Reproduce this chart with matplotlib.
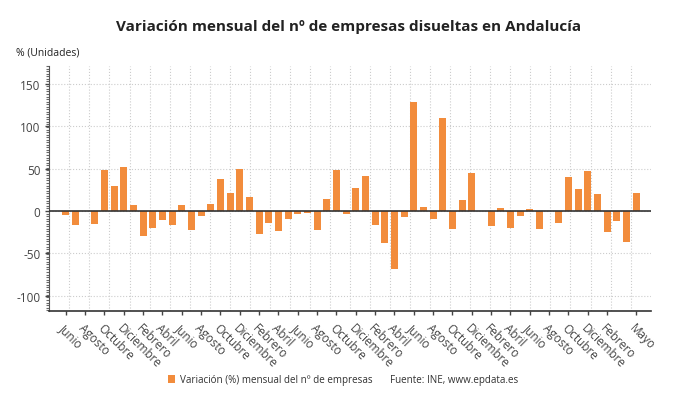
import matplotlib.pyplot as plt
import numpy as np

# month names (Spanish), series starts in June
month_names = ['Enero', 'Febrero', 'Marzo', 'Abril', 'Mayo', 'Junio', 'Julio',
               'Agosto', 'Septiembre', 'Octubre', 'Noviembre', 'Diciembre']
start_month = 5  # Junio

# monthly variation (%) of dissolved companies
values = [-5, -17, 0, -15, 48, 29, 52, 7.5, -30, -20, -11, -16,
          7, -23, -6, 8, 38, 21, 49, 16, -27.6, -14.6, -24, -9,
          -3, -2, -22, 14, 48.5, -4, 27.6, 41, -17, -37.4, -69, -6.7,
          128, 4.3, -9.5, 110, -21, 13, 45, 0, -18, 4, -20, -6,
          2, -21.7, 0, -14.6, 40.6, 26.4, 47, 20, -24.4, -11.8, -36.6, 21]

months = [month_names[(start_month + i) % 12] for i in range(len(values))]
tick_pos = list(range(0, 57, 2)) + [59]
tick_labels = [months[i] for i in tick_pos]

plt.rcParams['font.family'] = ['Open Sans', 'DejaVu Sans']
plt.rcParams['axes.unicode_minus'] = False

fig = plt.figure(figsize=(6.9, 4.06), dpi=100)
ax = fig.add_axes([0.0715, 0.2315, 0.8715, 0.6035])

x = np.arange(len(values))
bars = ax.bar(x, values, width=0.72, color='#F28C3C', zorder=2,
              label='Variación (%) mensual del nº de empresas')
ax.axhline(0, color='#333333', linewidth=1.2, zorder=3)

ax.set_xlim(-1.7, 60.5)
ax.set_ylim(-118, 171)

#ticks
ax.set_yticks([-100, -50, 0, 50, 100, 150])
ax.set_xticks(tick_pos)
ax.set_xticklabels(tick_labels, rotation=-45, ha='left', va='top',
                   rotation_mode='anchor')
ax.tick_params(axis='both', colors='#444444', labelsize=8.5, length=3, width=1)
ax.tick_params(axis='x', pad=4)
ax.yaxis.set_minor_locator(plt.MultipleLocator(3))
ax.tick_params(axis='y', which='minor', length=2, width=0.8, color='#666666')
ax.tick_params(axis='x', which='minor', length=0)

#grid: vertical lines evenly split the plot width
lo, hi = ax.get_xlim()
ax.set_xticks(np.linspace(lo, hi, 31)[1:-1], minor=True)
ax.grid(axis='x', which='minor', color='#cccccc', linestyle=':', linewidth=0.8)
ax.grid(axis='y', which='major', color='#cccccc', linestyle=':', linewidth=0.8)
ax.set_axisbelow(True)

for s in ['top', 'right']:
    ax.spines[s].set_visible(False)
ax.spines['left'].set_color('#555555')
ax.spines['bottom'].set_color('#333333')
ax.spines['bottom'].set_linewidth(1.2)

#titles
fig.text(0.505, 1 - 27 / 406, 'Variación mensual del nº de empresas disueltas en Andalucía',
         ha='center', va='center', fontsize=11, fontweight='bold', color='#222222')
fig.text(16 / 690, 1 - 53 / 406, '% (Unidades)', ha='left', va='center',
         fontsize=7.5, color='#222222')

#legend and source
leg = fig.legend(handles=[bars], loc='center left',
                 bbox_to_anchor=(164 / 690, 1 - 381 / 406), frameon=False,
                 fontsize=7.1, handlelength=0.75, handleheight=0.75,
                 handletextpad=0.5, borderaxespad=0)
for t in leg.get_texts():
    t.set_color('#333333')
fig.text(390 / 690, 1 - 381 / 406, 'Fuente: INE, www.epdata.es', ha='left',
         va='center', fontsize=7.1, color='#333333')

plt.savefig('out.png', dpi=100)
